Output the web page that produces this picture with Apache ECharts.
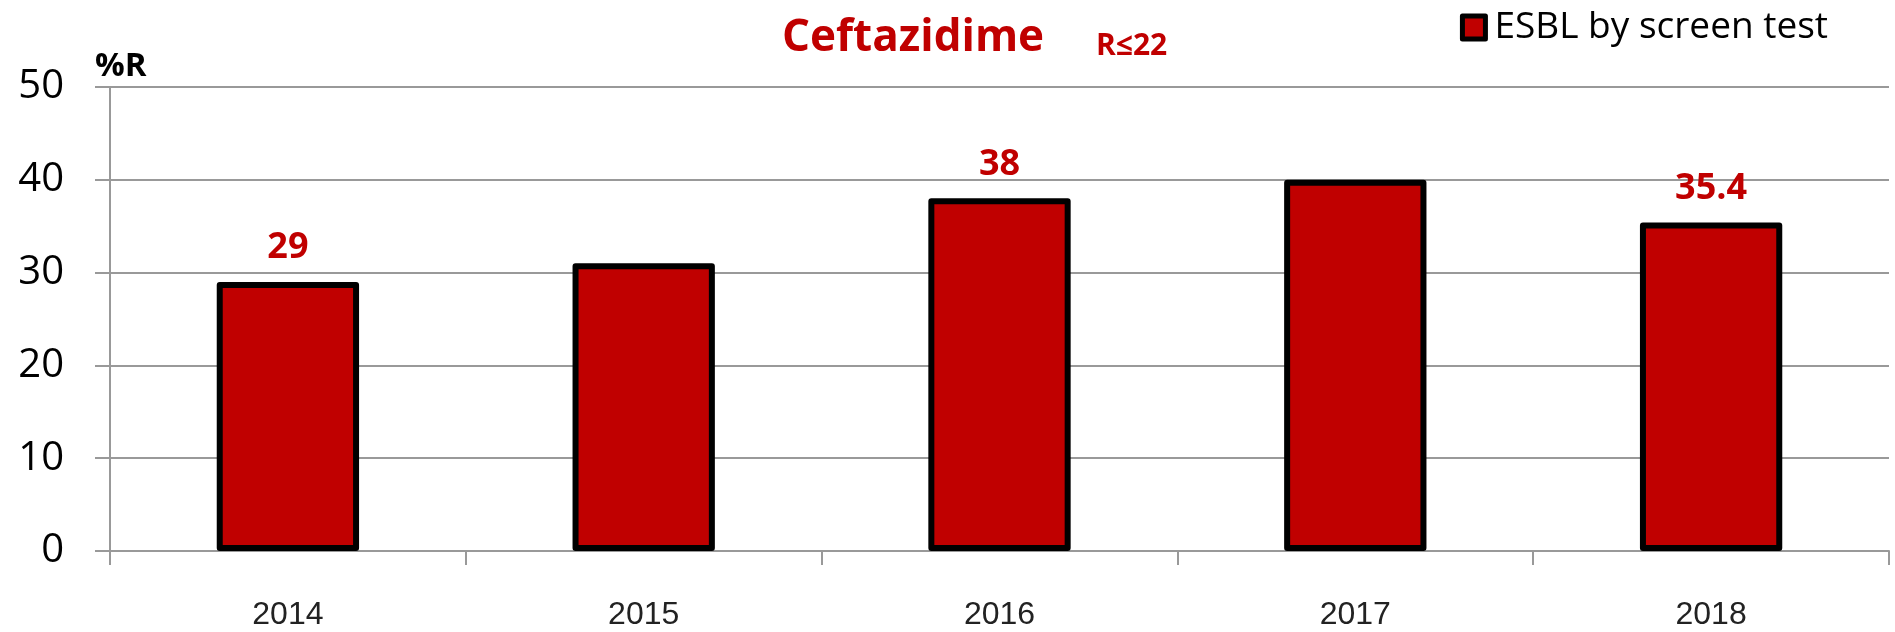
<!DOCTYPE html>
<html>
<head>
<meta charset="utf-8">
<script src="https://cdn.jsdelivr.net/npm/echarts@6/dist/echarts.min.js"></script>
<style>
  html, body { margin: 0; padding: 0; background: #fff; }
  #chart { width: 1895px; height: 632px; }
</style>
</head>
<body>
<div id="chart"></div>
<script>
const years = ['2014', '2015', '2016', '2017', '2018'];
const esblValues = [29, 31, 38, 40, 35.4];
// which bars carry a value label in the original
const labelled = [true, false, true, false, true];
const yTicks = { min: 0, max: 50, interval: 10 };

const RED = '#C00000';
const GRAY = '#999';

const chart = echarts.init(document.getElementById('chart'));

chart.setOption({
  backgroundColor: '#fff',
  animation: false,
  graphic: [
    { type: 'text', left: 782, top: 16, style: { text: 'Ceftazidime', font: 'bold 44px "Open Sans"', fill: RED } },
    { type: 'text', left: 1096, top: 31, style: { text: 'R≤22', font: 'bold 30px "Open Sans"', fill: RED } },
    { type: 'text', left: 95, top: 50, style: { text: '%R', font: 'bold 33px "Open Sans"', fill: '#000' } }
  ],
  legend: {
    right: 62,
    top: 4,
    icon: 'rect',
    itemWidth: 23,
    itemHeight: 23,
    itemStyle: { color: RED, borderColor: '#000', borderWidth: 5 },
    textStyle: { fontFamily: 'Open Sans', fontSize: 37, color: '#000', padding: [0, 0, 0, 4] },
    data: ['ESBL by screen test']
  },
  grid: { left: 110, right: 6, top: 87, bottom: 81 },
  xAxis: {
    type: 'category',
    data: years,
    axisLine: { lineStyle: { color: GRAY, width: 2 } },
    axisTick: { show: true, length: 14, lineStyle: { color: GRAY, width: 2 } },
    axisLabel: { fontFamily: 'Liberation Sans', fontSize: 32, color: '#222', margin: 48 }
  },
  yAxis: {
    type: 'value',
    min: yTicks.min,
    max: yTicks.max,
    interval: yTicks.interval,
    axisLine: { show: true, lineStyle: { color: GRAY, width: 2 } },
    axisTick: { show: true, length: 15, lineStyle: { color: GRAY, width: 2 } },
    splitLine: { lineStyle: { color: GRAY, width: 2 } },
    axisLabel: { fontFamily: 'Open Sans', fontSize: 40, color: '#000', margin: 46 }
  },
  series: [{
    name: 'ESBL by screen test',
    type: 'bar',
    barWidth: '40%',
    itemStyle: { color: RED, borderColor: '#000', borderWidth: 6, borderJoin: 'round' },
    data: esblValues.map((v, i) => ({
      value: v,
      label: {
        show: labelled[i],
        position: 'top',
        distance: 16,
        fontFamily: 'Open Sans',
        fontWeight: 'bold',
        fontSize: 36,
        color: RED
      }
    }))
  }]
});
</script>
</body>
</html>
